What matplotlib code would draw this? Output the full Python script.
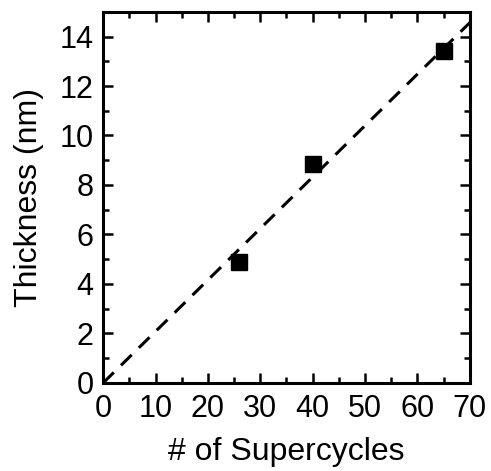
import numpy as np
import matplotlib
matplotlib.use("Agg")
import matplotlib.pyplot as plt
from matplotlib.ticker import MultipleLocator

supercycles = [26, 40, 65]
thickness = [4.9, 8.85, 13.4]
x_ticks = [0, 10, 20, 30, 40, 50, 60, 70]
y_ticks = [0, 2, 4, 6, 8, 10, 12, 14]

plt.rcParams['font.family'] = ['Liberation Sans', 'DejaVu Sans']

fig = plt.figure(figsize=(4.91, 4.71), dpi=100)
ax = fig.add_axes([0.21, 0.187, 0.747, 0.788])

xs = np.array(supercycles, float)
ys = np.array(thickness, float)
slope = np.sum(xs * ys) / np.sum(xs * xs)
xf = np.array([0, 70.0])
ax.plot(xf, slope * xf, color='black', lw=2.2, dashes=(4.9, 3.3), zorder=2)
ax.plot(supercycles, thickness, 's', color='black', markersize=11.5, zorder=3)

ax.set_xlim(0, 70)
ax.set_ylim(0, 15)
ax.set_xticks(x_ticks)
ax.set_yticks(y_ticks)
ax.xaxis.set_minor_locator(MultipleLocator(5))
ax.yaxis.set_minor_locator(MultipleLocator(1))
ax.tick_params(which='both', direction='in', top=True, right=True, width=1.8, labelsize=22)
ax.tick_params(axis='x', which='major', pad=8)
ax.tick_params(axis='y', which='major', pad=7)
ax.tick_params(which='major', length=7)
ax.tick_params(which='minor', length=4)
for s in ax.spines.values():
    s.set_linewidth(2.2)
ax.set_xlabel('# of Supercycles', fontsize=23, labelpad=9)
ax.set_ylabel('Thickness (nm)', fontsize=23, labelpad=11)

fig.savefig('out.png', dpi=100)
